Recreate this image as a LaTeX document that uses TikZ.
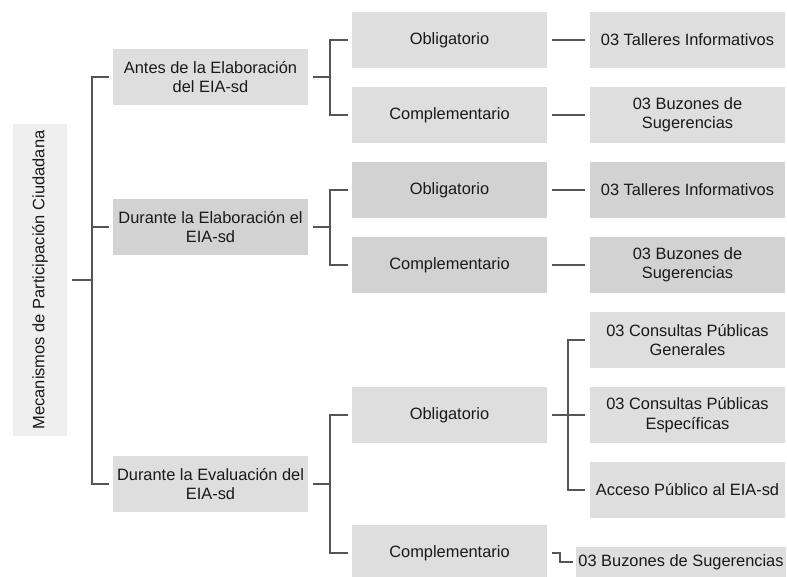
\documentclass[tikz,border=0pt]{standalone}
\usepackage{fontspec}
\setmainfont{Liberation Sans}
\usetikzlibrary{positioning}
\definecolor{boxlight}{HTML}{DEDEDE}
\definecolor{boxdark}{HTML}{D2D2D2}
\definecolor{boxpale}{HTML}{EFEFEF}
\definecolor{linegray}{HTML}{555555}

\begin{document}
\begin{tikzpicture}[
        x=1pt, y=-1pt,
        M/.style={rectangle, fill=boxpale, rotate=90, minimum width=312pt, minimum height=54pt, outer sep=0pt, text=black!90, font=\fontsize{16.5}{19}\selectfont},
        E/.style={rectangle, fill=boxlight, minimum width=195pt, minimum height=56pt, inner sep=2pt, outer sep=0pt, align=center, text=black!90, font=\fontsize{16.4}{19.5}\selectfont},
        D/.style={E, fill=boxdark},
        L/.style={draw=linegray, line width=2.4pt},
        node distance=19pt and 43pt
    ]
    \useasboundingbox (0,0) rectangle (787,577);

    \node[M]      (mec)  at (40,280)       {Mecanismos de Participación Ciudadana};

    \node[E]      (e1)   at (210.5,77)     {Antes de la Elaboración\\del EIA-sd};
    \node[D]      (e2)   at (210.5,227)    {Durante la Elaboración el\\EIA-sd};
    \node[E]      (e3)   at (210.5,484)    {Durante la Evaluación del\\EIA-sd};

    \node[E]      (o1)   at (449.5,40)     {Obligatorio};
    \node[E]      (c1)   [below=of o1]     {Complementario};
    \node[D]      (o2)   [below=of c1]     {Obligatorio};
    \node[D]      (c2)   [below=of o2]     {Complementario};
    \node[E]      (o3)   at (449.5,415)    {Obligatorio};
    \node[E]      (c3)   at (449.5,553)    {Complementario};

    \node[E]      (a1)   [right=of o1]     {03 Talleres Informativos};
    \node[E]      (b1)   [right=of c1]     {03 Buzones de\\Sugerencias};
    \node[D]      (a2)   [right=of o2]     {03 Talleres Informativos};
    \node[D]      (b2)   [right=of c2]     {03 Buzones de\\Sugerencias};
    \node[E]      (g3)   [below=of b2]     {03 Consultas Públicas\\Generales};
    \node[E]      (s3)   [below=of g3]     {03 Consultas Públicas\\Específicas};
    \node[E]      (p3)   [below=of s3]     {Acceso Público al EIA-sd};
    \node[E, minimum width=208pt, minimum height=30pt] (b3) at (681,562) {03 Buzones de Sugerencias};

    \draw[L] ([xshift=5pt]mec.south) -- ++(20,0) coordinate (j0);
    \draw[L] ([xshift=-4pt]e1.west) -| (j0) |- ([xshift=-4pt]e3.west);
    \draw[L] (j0 |- e2.west) -- ([xshift=-4pt]e2.west);

    \draw[L] ([xshift=5pt]e1.east) -- ++(17,0) coordinate (j1);
    \draw[L] ([xshift=-4pt]o1.west) -| (j1) |- ([xshift=-4pt]c1.west);
    \draw[L] ([xshift=5pt]e2.east) -- ++(17,0) coordinate (j2);
    \draw[L] ([xshift=-4pt]o2.west) -| (j2) |- ([xshift=-4pt]c2.west);
    \draw[L] ([xshift=5pt]e3.east) -- ++(17,0) coordinate (j3);
    \draw[L] ([xshift=-4pt]o3.west) -| (j3) |- ([xshift=-4pt]c3.west);

    \draw[L] ([xshift=5pt]o1.east) -- ([xshift=-5pt]a1.west);
    \draw[L] ([xshift=5pt]c1.east) -- ([xshift=-5pt]b1.west);
    \draw[L] ([xshift=5pt]o2.east) -- ([xshift=-5pt]a2.west);
    \draw[L] ([xshift=5pt]c2.east) -- ([xshift=-5pt]b2.west);

    \draw[L] ([xshift=5pt]o3.east) -- ([xshift=-5pt]s3.west);
    \coordinate (j4) at ([xshift=21pt]o3.east);
    \draw[L] ([xshift=-5pt]g3.west) -| (j4) |- ([xshift=-5pt]p3.west);
    \draw[L] ([xshift=5pt]c3.east) -- ++(8,0) |- ([xshift=-3pt]b3.west);
    \end{tikzpicture}
\end{document}
